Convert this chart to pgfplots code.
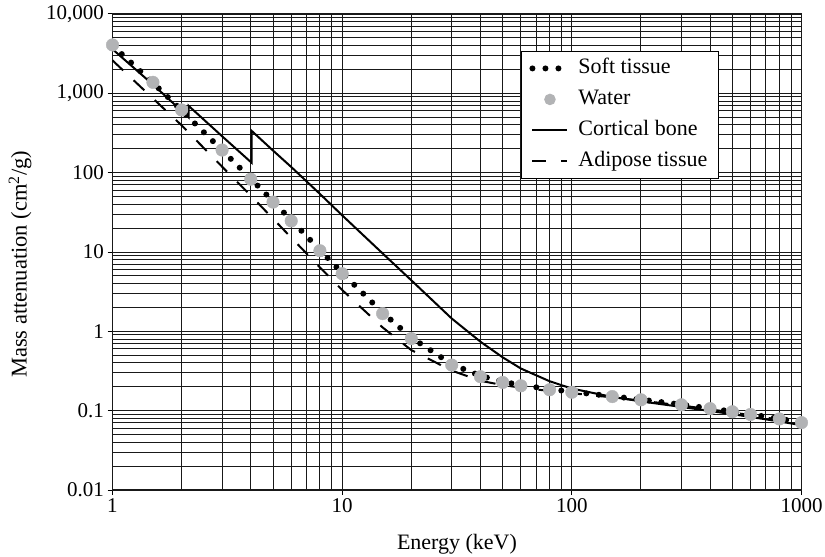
\documentclass[border=0pt]{standalone}
\usepackage{fontspec}
\setmainfont{Liberation Serif}
\usepackage{pgfplots}
\pgfplotsset{compat=1.18}
\definecolor{watergray}{RGB}{178,179,181}
\pgfplotsset{water legend/.style={legend image code/.code={\draw[mark repeat=2,mark phase=2,##1] plot coordinates {(0pt,0pt) (17.5pt,0pt) (35pt,0pt)};}}}
\begin{document}
\begin{tikzpicture}[font=\fontsize{21}{25}\selectfont]
\begin{axis}[
  at={(0pt,0pt)}, anchor=south west,
  scale only axis, width=689pt, height=476pt,
  xmode=log, ymode=log,
  xmin=1, xmax=1000, ymin=0.01, ymax=10000,
  xtick={1,10,100,1000}, xticklabels={1,10,100,1000},
  ytick={0.01,0.1,1,10,100,1000,10000},
  yticklabels={0.01,0.1,1,10,100,{1,000},{10,000}},
  minor xtick={2,3,4,5,6,7,8,9,20,30,40,50,60,70,80,90,200,300,400,500,600,700,800,900},
  minor ytick={0.02,0.03,0.04,0.05,0.06,0.07,0.08,0.09,0.2,0.3,0.4,0.5,0.6,0.7,0.8,0.9,2,3,4,5,6,7,8,9,20,30,40,50,60,70,80,90,200,300,400,500,600,700,800,900,2000,3000,4000,5000,6000,7000,8000,9000},
  grid=both,
  major grid style={black!90, line width=1pt},
  minor grid style={black!90, line width=1pt},
  tick align=outside, tick pos=left,
  major tick length=5pt, minor tick length=0pt,
  tick style={black, line width=1pt},
  axis line style={black!90, line width=1.3pt},
  clip=false,
  xlabel={Energy (keV)},
  ylabel={Mass attenuation (cm\textsuperscript{2}/g)},
  xlabel style={at={(axis description cs:0.5,-0.126)}, anchor=base, font=\fontsize{22}{26}\selectfont},
  ylabel style={at={(axis description cs:-0.1125,0.474)}, anchor=south, font=\fontsize{22.5}{26}\selectfont},
  legend style={at={(0.5929,0.9223)}, anchor=north west, draw=black, line width=0.9pt, fill=white,
    font=\fontsize{22}{26}\selectfont, inner xsep=8pt, inner ysep=4pt, row sep=5pt, column sep=5pt,
    nodes={inner xsep=3pt, inner ysep=3pt, text height=15pt, text depth=5pt}},
  legend cell align=left,
  legend image code/.code={\draw[#1] (0pt,0pt) -- (35pt,0pt);},
]
\addlegendimage{black, line width=6pt, line cap=round, dash pattern=on 0pt off 13pt}
\addlegendentry{Soft tissue}
\addlegendimage{only marks, mark=*, mark size=5.3pt, mark options={fill=watergray, draw=watergray}, water legend}
\addlegendentry{Water}
\addlegendimage{black, line width=2pt}
\addlegendentry{Cortical bone}
\addlegendimage{black, line width=2pt, dash pattern=on 14pt off 15pt}
\addlegendentry{Adipose tissue}

% Soft tissue (dotted)
\addplot[forget plot, black, line width=6pt, line cap=round, dash pattern=on 0pt off 12.6pt] table {
x y
1 4000
1.5 1360
2 610
3 192
4 84
5 43.5
6 25.2
8 10.6
10 5.45
15 1.72
20 0.835
30 0.385
40 0.275
50 0.232
60 0.210
80 0.187
100 0.173
150 0.152
200 0.138
300 0.1193
400 0.1067
500 0.0974
600 0.0900
800 0.0791
1000 0.0711
};

% Cortical bone (solid)
\addplot[forget plot, black, line width=2pt] table {
x y
1 3600
1.5 1290
2 600
2.1455 498
2.1455 695
3 288
4.038 133
4.038 336
5 190
6 118
8 54
10 29
15 9.6
20 4.4
30 1.45
40 0.74
50 0.47
60 0.34
80 0.235
100 0.19
150 0.149
200 0.131
300 0.1114
400 0.0991
500 0.0903
600 0.0834
800 0.0731
1000 0.0657
};

% Adipose tissue (dashed)
\addplot[forget plot, black, line width=2pt, dash pattern=on 14.6pt off 14.4pt] table {
x y
1 2600
1.5 863
2 395
3 119
4 51.4
5 26.3
6 15.2
8 6.4
10 3.32
15 1.12
20 0.58
30 0.32
40 0.238
50 0.210
60 0.195
80 0.177
100 0.166
150 0.147
200 0.134
300 0.1162
400 0.1039
500 0.0949
600 0.0878
800 0.0771
1000 0.0693
};

% Water (grey circles)
\addplot[forget plot, only marks, mark=*, mark size=6.3pt, mark options={fill=watergray, draw=watergray}] table {
x y
1 4078
1.5 1376
2 617.3
3 192.9
4 82.78
5 42.58
6 24.64
8 10.37
10 5.329
15 1.673
20 0.8096
30 0.3756
40 0.2683
50 0.2269
60 0.2059
80 0.1837
100 0.1707
150 0.1505
200 0.1370
300 0.1186
400 0.1061
500 0.09687
600 0.08956
800 0.07865
1000 0.07072
};
\end{axis}
\pgfresetboundingbox
\path (-112.5pt,-67pt) rectangle (712.5pt,490pt);
\end{tikzpicture}
\end{document}
